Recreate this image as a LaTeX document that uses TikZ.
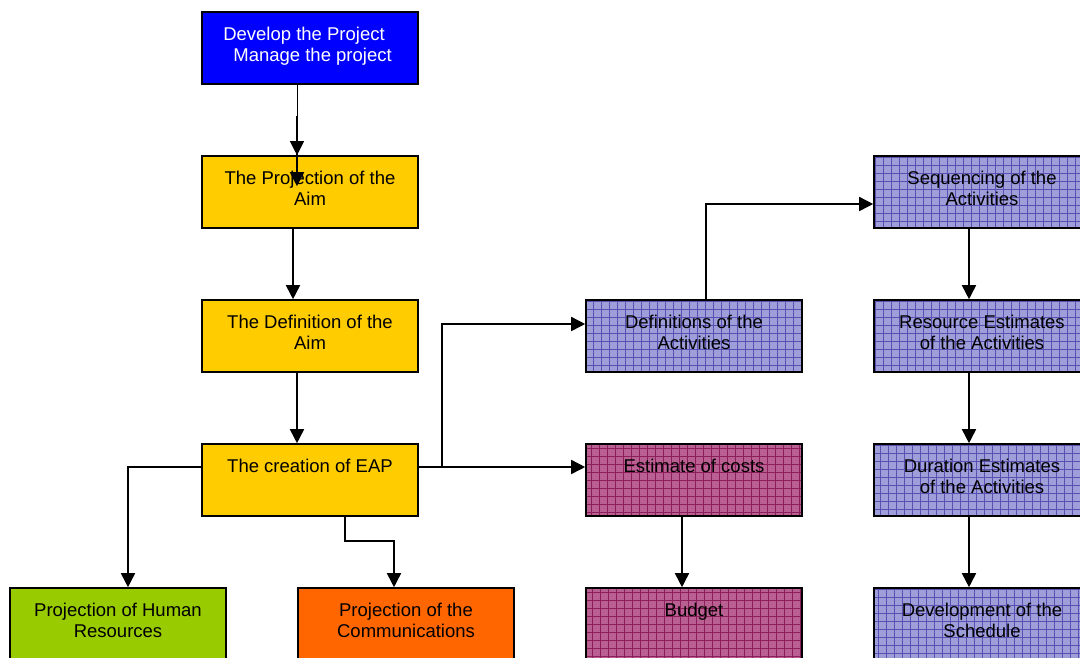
\documentclass[tikz,border=0pt]{standalone}
\usepackage{fontspec}
\setmainfont{Liberation Sans}
\usepackage{tikz}
\usetikzlibrary{arrows.meta}
\definecolor{pblue}{RGB}{0,0,255}
\definecolor{pyel}{RGB}{255,204,0}
\definecolor{pgreen}{RGB}{153,204,0}
\definecolor{porange}{RGB}{255,102,0}
\definecolor{plav}{RGB}{158,158,216}
\definecolor{plavln}{RGB}{90,80,180}
\definecolor{ppink}{RGB}{185,95,145}
\definecolor{ppinkln}{RGB}{140,30,90}
\tikzset{
  bx/.style = {rectangle, draw=black, line width=1.6pt, align=center,
    minimum width=216pt, inner sep=0pt, text height=28pt, text depth=44pt,
    font=\fontsize{18.5}{21}\selectfont},% plain box, text at the top
  two/.style = {text height=49pt, text depth=23pt},% two lines of text
  grd/.style = {bx, fill=#1, path picture={
    \draw[-, #1ln, line width=0.45pt] (path picture bounding box.south west)
      grid[step=8pt] (path picture bounding box.north east);}},% hatched box
  ln/.style = {line width=1.6pt}
}

\begin{document}
\begin{tikzpicture}[x=1pt,y=-1pt,->,>={Triangle[length=14pt,width=14pt]}]
\clip (0,0) rectangle (1080,657);
\fill[white] (0,0) rectangle (1080,657);

% left column
\node [bx, two, fill=pblue, text=white] (dev) at (310,48) {Develop the Project\hspace*{12pt}\\ \ Manage the project};
\node [bx, two, fill=pyel] (projaim) at (310,192) {The Projection of the\\Aim};
\node [bx, two, fill=pyel] (defaim) at (310,336) {The Definition of the\\Aim};
\node [bx, fill=pyel] (eap) at (310,480) {The creation of EAP};
\node [bx, two, fill=pgreen] (hr) at (118,624) {Projection of Human\\Resources};
\node [bx, two, fill=porange] (comm) at (406,624) {Projection of the\\Communications};

% middle and right column
\node [grd=plav, two] (defact) at (694,336) {Definitions of the\\Activities};
\node [grd=ppink] (cost) at (694,480) {Estimate of costs};
\node [grd=ppink] (budget) at (694,624) {Budget};
\node [grd=plav, two] (seq) at (982,192) {Sequencing of the\\Activities};
\node [grd=plav, two] (res) at (982,336) {Resource Estimates\\of the Activities};
\node [grd=plav, two] (dur) at (982,480) {Duration Estimates\\of the Activities};
\node [grd=plav, two] (sched) at (982,624) {Development of the\\Schedule};

\draw [line width=1pt] ([xshift=-13pt]dev.south) -- ([xshift=-13pt]projaim.north);
\draw [ln] ([xshift=-13pt,yshift=-31pt]dev.south) -- ([xshift=-13pt,yshift=-31pt]projaim.north);
\draw [ln] ([xshift=-17pt]projaim.south) -- ([xshift=-17pt]defaim.north);
\draw [ln] ([xshift=-13pt]defaim.south) -- ([xshift=-13pt]eap.north);
\draw [ln] ([yshift=13pt]eap.west) -| ([xshift=10pt]hr.north);
\draw [ln] ([xshift=35pt]eap.south) -- ++(0,24) -| ([xshift=-12pt]comm.north);
\draw [ln] ([yshift=13pt]eap.east) -- ([yshift=13pt]cost.west);
\coordinate (j) at ([xshift=23pt,yshift=13pt]eap.east);
\draw [ln] (j) |- ([yshift=12pt]defact.west);
\draw [ln] ([xshift=12pt]defact.north) |- ([yshift=-12pt]seq.west);
\draw [ln] ([xshift=-12pt]cost.south) -- ([xshift=-12pt]budget.north);
\draw [ln] ([xshift=-13pt]seq.south) -- ([xshift=-13pt]res.north);
\draw [ln] ([xshift=-13pt]res.south) -- ([xshift=-13pt]dur.north);
\draw [ln] ([xshift=-13pt]dur.south) -- ([xshift=-13pt]sched.north);
\end{tikzpicture}
\end{document}
